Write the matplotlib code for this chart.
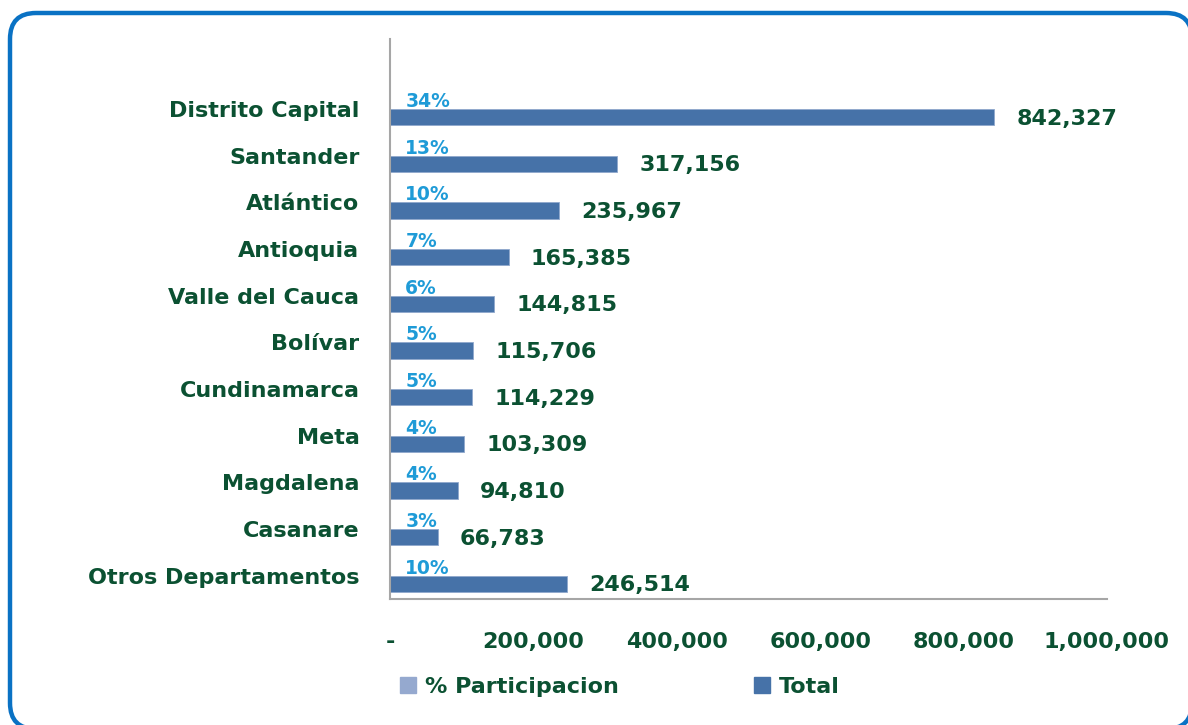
import numpy as np
import matplotlib
matplotlib.use('Agg')
import matplotlib.pyplot as plt
from matplotlib.patches import FancyBboxPatch, Patch

###############################################################################

departamentos = ['Distrito Capital', 'Santander', 'Atlántico', 'Antioquia',
                 'Valle del Cauca', 'Bolívar', 'Cundinamarca', 'Meta',
                 'Magdalena', 'Casanare', 'Otros Departamentos']
totales = [842327, 317156, 235967, 165385, 144815, 115706, 114229, 103309,
           94810, 66783, 246514]
participacion = [34, 13, 10, 7, 6, 5, 5, 4, 4, 3, 10]  # in %

x_ticks = [0, 200000, 400000, 600000, 800000, 1000000]
x_tick_labels = ['-', '200,000', '400,000', '600,000', '800,000', '1,000,000']

###############################################################################

green = '#0B5132'
bar_blue = '#4672A8'
pct_blue = '#1F9BD7'
light_blue = '#95A9CF'

plt.rcParams['font.family'] = ['DejaVu Sans']
plt.rcParams['font.weight'] = 'bold'

fig = plt.figure(figsize=(11.88, 7.25), dpi=100)

# Background axes in pixel units, used only for the rounded blue border
# (filled white so the part running off the canvas is not clipped oddly)
bg = fig.add_axes([0, 0, 1, 1], zorder=-1)
bg.set_xlim(0, 1188)
bg.set_ylim(0, 725)
bg.axis('off')
bg.add_patch(FancyBboxPatch((10, -4), 1182, 716,
                            boxstyle='round,pad=0,rounding_size=26',
                            facecolor='white', edgecolor='#0A72C4',
                            linewidth=3.2, clip_on=False))

ax = fig.add_axes([390 / 1188, 1 - 599 / 725, 717 / 1188, 560 / 725])
ax.patch.set_alpha(0)

# Categories from top to bottom, one empty slot left on top
n = len(departamentos)
ypos = np.arange(n)[::-1]
bh = 0.35

ax.barh(ypos + bh / 2, [p / 100 for p in participacion], height=bh,
        color=light_blue, label='% Participacion')
ax.barh(ypos - bh / 2, totales, height=bh, color=bar_blue,
        edgecolor='#8FA8CC', linewidth=0.6, label='Total')

for yy, tot, pct in zip(ypos, totales, participacion):
    ax.annotate('%d%%' % pct, (pct / 100, yy + bh / 2), xytext=(11, -0.5),
                textcoords='offset points', ha='left', va='center',
                color=pct_blue, fontsize=13.5, fontweight='bold')
    ax.annotate('{:,}'.format(tot), (tot, yy - bh / 2), xytext=(16, -1),
                textcoords='offset points', ha='left', va='center',
                color=green, fontsize=16, fontweight='bold')

ax.set_xlim(0, 1000000)
ax.set_ylim(-0.5, n + 0.5)
ax.set_xticks(x_ticks)
ax.set_xticklabels(x_tick_labels)
ax.set_yticks(ypos)
ax.set_yticklabels(departamentos)
ax.tick_params(axis='both', length=0, labelsize=16, labelcolor=green)
ax.tick_params(axis='x', pad=24)
ax.tick_params(axis='y', pad=22)

for side in ['top', 'right']:
    ax.spines[side].set_visible(False)
for side in ['left', 'bottom']:
    ax.spines[side].set_color('#A6A6A6')
    ax.spines[side].set_linewidth(1.5)

handles = [Patch(color=light_blue), Patch(color=bar_blue)]
fig.legend(handles, ['% Participacion', 'Total'], loc='center',
           bbox_to_anchor=(620 / 1188, 1 - 687 / 725), ncol=2, frameon=False,
           fontsize=16, handlelength=0.7, handleheight=0.7,
           handletextpad=0.4, columnspacing=6.1,
           labelcolor=green)

fig.savefig('out.png', dpi=100)
